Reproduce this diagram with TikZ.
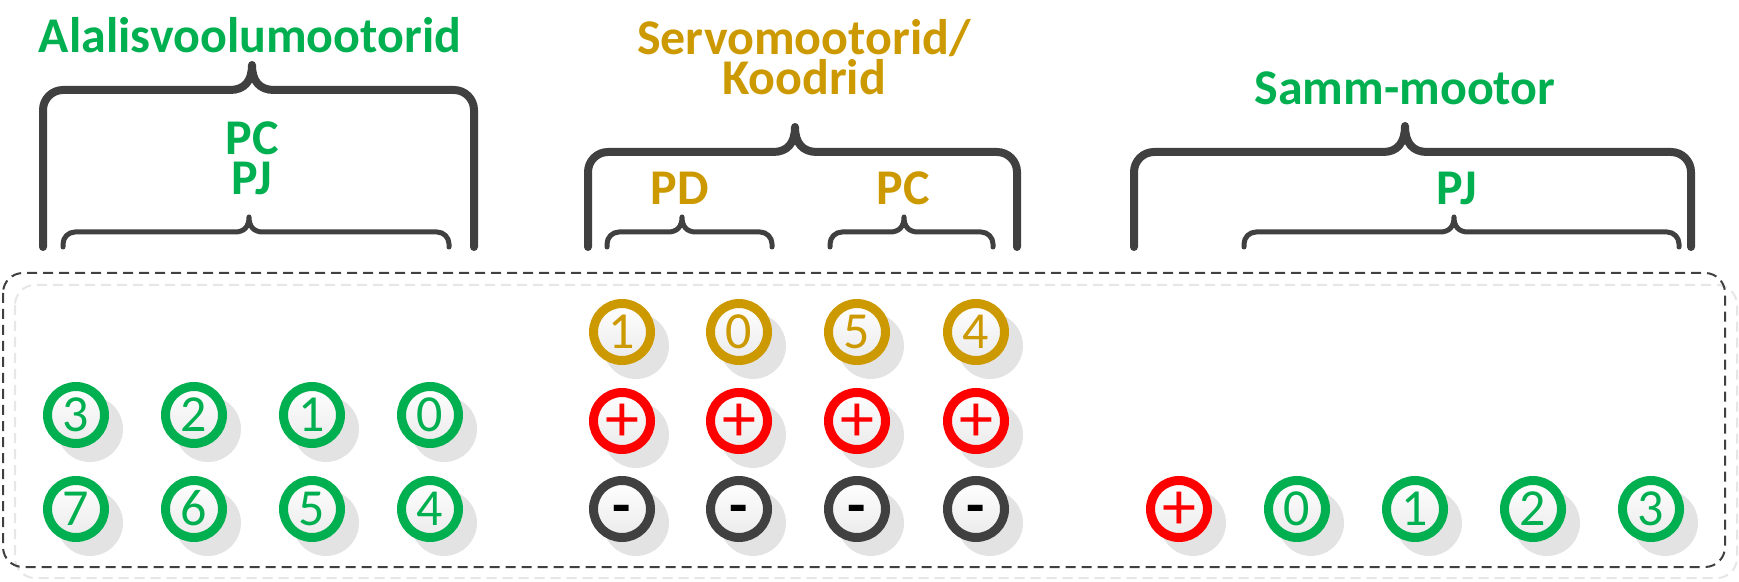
\documentclass[tikz,border=0pt]{standalone}
\usepackage{fontspec}
\setmainfont{Carlito}
\usetikzlibrary{shadows}
\definecolor{motgreen}{HTML}{00B050}
\definecolor{motgold}{HTML}{CC9900}
\definecolor{motred}{HTML}{FF0000}
\definecolor{bracegray}{HTML}{404040}
\definecolor{boxgray}{HTML}{E6E6E6}

% style, left x, tip x, right x, bar y, tip y, corner, tip width
\newcommand{\curlybr}[8]{%
  \draw[#1] (#2,247) -- ({#2},{#5+#7})
    .. controls ({#2},{#5+0.45*#7}) and ({#2+0.45*#7},{#5}) .. ({#2+#7},{#5})
    -- ({#3-#8},{#5}) .. controls ({#3-0.35*#8},{#5}) and ({#3},{#5-0.35*(#5-#6)}) .. ({#3},{#6})
    .. controls ({#3},{#5-0.35*(#5-#6)}) and ({#3+0.35*#8},{#5}) .. ({#3+#8},{#5})
    -- ({#4-#7},{#5}) .. controls ({#4-0.45*#7},{#5}) and ({#4},{#5+0.45*#7}) .. ({#4},{#5+#7})
    -- (#4,247);}

\begin{document}
\begin{tikzpicture}[x=0.5pt, y=-0.5pt,
  jack/.style={circle, minimum size=28.5pt, inner sep=0pt, line width=4.5pt, top color=white, bottom color=black!8, drop shadow={shadow xshift=6pt, shadow yshift=-6pt, shadow scale=1.16, fill=black!11, opacity=1}, text height=16.5pt, text depth=0pt, font=\fontsize{26}{26}\selectfont},
  gjack/.style={jack, draw=motgreen, text=motgreen},
  ojack/.style={jack, draw=motgold, text=motgold},
  pjack/.style={jack, draw=motred, text=motred, font=\fontsize{34}{34}\selectfont, text height=20.5pt},
  mjack/.style={jack, draw=bracegray, text=black, font=\bfseries\fontsize{30}{30}\selectfont},
  head/.style={font=\bfseries\fontsize{25}{20}\selectfont, inner sep=0pt, anchor=base, align=center},
  bigbr/.style={draw=bracegray, line width=4pt, line cap=round, line join=round},
  smallbr/.style={draw=bracegray, line width=2.5pt, line cap=round, line join=round},
  dashbox/.style={rounded corners=10pt, line width=1pt, dash pattern=on 5pt off 3pt}]
  \useasboundingbox (0,0) rectangle (1739,582);

  % frame round the connectors
  \draw[dashbox, draw=boxgray] (15,285) rectangle (1737,578);
  \draw[dashbox, draw=bracegray] (3,273) rectangle (1725,567);

  % titles
  \node[head, text=motgreen] (hdc) at (250,53) {Alalisvoolumootorid};
  \node[head, text=motgold] (hsv) at (804,95) {Servomootorid/\\Koodrid};
  \node[head, text=motgreen] (hst) at (1405,105) {Samm-mootor};
  \node[head, text=motgreen] (ldc) at (252,195) {PC\\PJ};
  \node[head, text=motgold] (lpd) at (680,205) {PD};
  \node[head, text=motgold] (lpc) at (903,205) {PC};
  \node[head, text=motgreen] (lst) at (1457,205) {PJ};

  % braces
  \curlybr{bigbr}{43}{252}{474}{90}{65}{20}{22}
  \curlybr{bigbr}{588}{795}{1017}{152}{127}{20}{22}
  \curlybr{bigbr}{1134}{1405}{1691}{152}{126}{20}{22}
  \curlybr{smallbr}{63}{249}{449}{232}{217}{12}{14}
  \curlybr{smallbr}{607}{682}{772}{232}{217}{12}{14}
  \curlybr{smallbr}{830}{904}{993}{232}{217}{12}{14}
  \curlybr{smallbr}{1244}{1454}{1679}{232}{217}{12}{14}

  % DC motor pins
  \node[gjack] (dc3) at (76,415) {3};
  \node[gjack] (dc2) at (194,415) {2};
  \node[gjack] (dc1) at (312,415) {1};
  \node[gjack] (dc0) at (430,415) {0};
  \node[gjack] (dc7) at (76,509) {7};
  \node[gjack] (dc6) at (194,509) {6};
  \node[gjack] (dc5) at (312,509) {5};
  \node[gjack] (dc4) at (430,509) {4};

  % servo pins
  \node[ojack] (sv1) at (622,332) {1};
  \node[ojack] (sv0) at (739,332) {0};
  \node[ojack] (sv5) at (857,332) {5};
  \node[ojack] (sv4) at (976,332) {4};
  \node[pjack] (svp1) at (622,421) {+};
  \node[pjack] (svp0) at (739,421) {+};
  \node[pjack] (svp5) at (857,421) {+};
  \node[pjack] (svp4) at (976,421) {+};
  \node[mjack] (svm1) at (622,509) {-};
  \node[mjack] (svm0) at (739,509) {-};
  \node[mjack] (svm5) at (857,509) {-};
  \node[mjack] (svm4) at (976,509) {-};

  % stepper pins
  \node[pjack] (stp) at (1179,509) {+};
  \node[gjack] (st0) at (1297,509) {0};
  \node[gjack] (st1) at (1415,509) {1};
  \node[gjack] (st2) at (1533,509) {2};
  \node[gjack] (st3) at (1651,509) {3};
\end{tikzpicture}
\end{document}
